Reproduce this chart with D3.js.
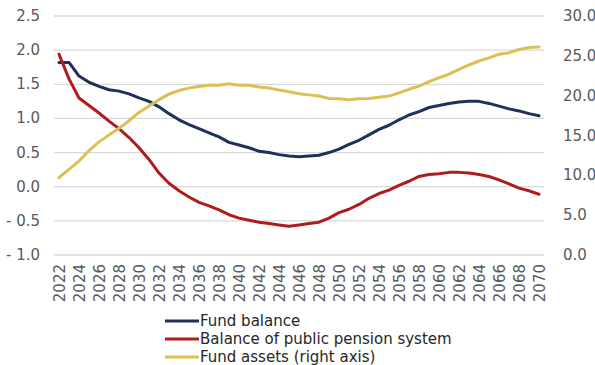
<!DOCTYPE html>
<html>
<head>
<meta charset="utf-8">
<script src="https://cdn.jsdelivr.net/npm/d3@7"></script>
<style>
  html, body { margin: 0; padding: 0; background: #fff; }
  svg { display: block; font-family: "DejaVu Sans", Verdana, sans-serif; }
</style>
</head>
<body>
<svg id="chart" width="595" height="365"></svg>
<script>
// Projection years
const years = d3.range(2022, 2071);

// Fund balance (left axis)
const fundBalance = [
  1.82, 1.82, 1.62, 1.53, 1.47, 1.42, 1.40, 1.36, 1.30, 1.25,
  1.17, 1.07, 0.98, 0.91, 0.85, 0.79, 0.73, 0.65, 0.61, 0.57,
  0.52, 0.50, 0.47, 0.45, 0.44, 0.45, 0.46, 0.50, 0.55, 0.62,
  0.68, 0.76, 0.84, 0.90, 0.98, 1.05, 1.10, 1.16, 1.19, 1.22,
  1.24, 1.25, 1.25, 1.22, 1.18, 1.14, 1.11, 1.07, 1.04
];

// Balance of public pension system (left axis)
const pensionBalance = [
  1.94, 1.58, 1.30, 1.19, 1.08, 0.96, 0.85, 0.72, 0.57, 0.40,
  0.20, 0.05, -0.06, -0.15, -0.23, -0.28, -0.34, -0.41, -0.46, -0.49,
  -0.52, -0.54, -0.56, -0.58, -0.56, -0.54, -0.52, -0.46, -0.38, -0.33,
  -0.26, -0.17, -0.10, -0.05, 0.02, 0.08, 0.15, 0.18, 0.19, 0.21,
  0.21, 0.20, 0.18, 0.15, 0.10, 0.04, -0.02, -0.06, -0.11
];

// Fund assets (right axis)
const fundAssets = [
  9.7, 10.75, 11.8, 13.1, 14.2, 15.05, 15.9, 16.85, 17.9, 18.7,
  19.5, 20.2, 20.65, 20.95, 21.15, 21.3, 21.3, 21.5, 21.3, 21.3,
  21.1, 20.95, 20.7, 20.5, 20.25, 20.1, 19.95, 19.65, 19.6, 19.5,
  19.6, 19.65, 19.8, 19.95, 20.35, 20.8, 21.2, 21.75, 22.25, 22.7,
  23.3, 23.85, 24.35, 24.75, 25.2, 25.4, 25.8, 26.05, 26.1
];

const leftTicks = [-1.0, -0.5, 0.0, 0.5, 1.0, 1.5, 2.0, 2.5];
const rightTicks = [0, 5, 10, 15, 20, 25, 30];
const yearTicks = years.filter(y => (y - 2022) % 2 === 0);

const seriesNames = ["Fund balance", "Balance of public pension system", "Fund assets (right axis)"];
const seriesColors = ["#1f3158", "#b01c1c", "#dcbf55"];

const svg = d3.select("#chart");
const plot = { left: 54, right: 544, top: 16, bottom: 255 };
const fontSize = 15;

const x = d3.scalePoint().domain(years).range([plot.left, plot.right]).padding(0.5);
const yL = d3.scaleLinear().domain([-1.0, 2.5]).range([plot.bottom, plot.top]);
const yR = d3.scaleLinear().domain([0, 30]).range([plot.bottom, plot.top]);

const fmtLeft = v => (v < 0 ? "- " + d3.format(".1f")(-v) : d3.format(".1f")(v));

// Horizontal gridlines
svg.append("g")
  .selectAll("line")
  .data(leftTicks)
  .join("line")
  .attr("x1", plot.left).attr("x2", plot.right)
  .attr("y1", d => yL(d)).attr("y2", d => yL(d))
  .attr("stroke", "#d9d9d9").attr("stroke-width", 1.3);

// Left axis labels
svg.append("g")
  .selectAll("text")
  .data(leftTicks)
  .join("text")
  .attr("x", 40).attr("y", d => yL(d))
  .attr("text-anchor", "end").attr("dominant-baseline", "central")
  .attr("font-size", fontSize).attr("fill", "#595959")
  .text(fmtLeft);

// Right axis labels
svg.append("g")
  .selectAll("text")
  .data(rightTicks)
  .join("text")
  .attr("x", 563).attr("y", d => yR(d))
  .attr("text-anchor", "start").attr("dominant-baseline", "central")
  .attr("font-size", fontSize).attr("fill", "#595959")
  .text(d => d3.format(".1f")(d));

// Year labels, rotated
svg.append("g")
  .selectAll("text")
  .data(yearTicks)
  .join("text")
  .attr("transform", d => `translate(${x(d) + 0.5},264) rotate(-90)`)
  .attr("text-anchor", "end").attr("dominant-baseline", "central")
  .attr("font-size", fontSize).attr("fill", "#595959")
  .text(d => d);

// Lines
const lineL = d3.line().x((d, i) => x(years[i])).y(d => yL(d));
const lineR = d3.line().x((d, i) => x(years[i])).y(d => yR(d));

const series = [
  { values: fundBalance, gen: lineL, color: seriesColors[0] },
  { values: pensionBalance, gen: lineL, color: seriesColors[1] },
  { values: fundAssets, gen: lineR, color: seriesColors[2] }
];

svg.append("g")
  .selectAll("path")
  .data(series)
  .join("path")
  .attr("d", s => s.gen(s.values))
  .attr("fill", "none")
  .attr("stroke", s => s.color)
  .attr("stroke-width", 3)
  .attr("stroke-linejoin", "round")
  .attr("stroke-linecap", "round");

// Legend
const legend = svg.append("g");
const legendRows = seriesNames.map((name, i) => ({ name, color: seriesColors[i], y: 321 + i * 18 }));
legend.selectAll("line")
  .data(legendRows)
  .join("line")
  .attr("x1", 165).attr("x2", 199)
  .attr("y1", d => d.y).attr("y2", d => d.y)
  .attr("stroke", d => d.color).attr("stroke-width", 3);
legend.selectAll("text")
  .data(legendRows)
  .join("text")
  .attr("x", 200).attr("y", d => d.y)
  .attr("dominant-baseline", "central")
  .attr("font-size", fontSize).attr("fill", "#262626")
  .text(d => d.name);
</script>
</body>
</html>
